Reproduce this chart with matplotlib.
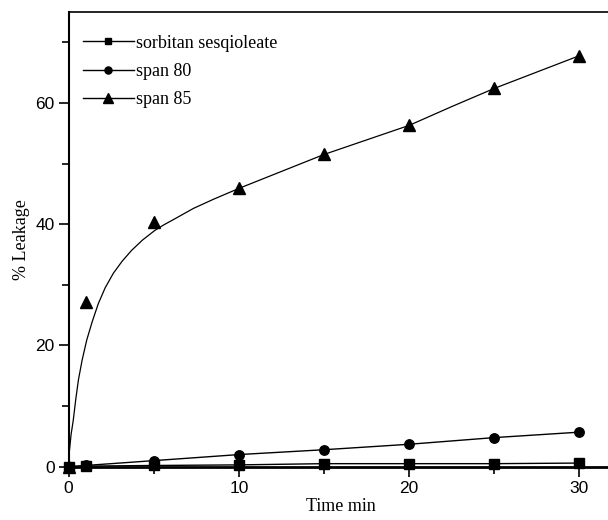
import matplotlib.pyplot as plt
from matplotlib.ticker import MultipleLocator

plt.rcParams['font.family'] = ['Liberation Serif', 'DejaVu Serif']

# Sampling times (min)
time = [0, 1, 5, 10, 15, 20, 25, 30]

# % leakage for each surfactant
sorbitan = [0, 0.1, 0.2, 0.3, 0.5, 0.5, 0.5, 0.6]
span80 = [0, 0.2, 1.0, 2.0, 2.8, 3.7, 4.8, 5.7]
span85 = [0, 27.2, 40.4, 45.9, 51.5, 56.3, 62.4, 67.8]

# Fitted trend line for span 85
fit_t = [0, 0.05, 0.15, 0.28, 0.42, 0.58, 0.8, 1.07, 1.4, 1.75, 2.15, 2.63,
         3.15, 3.71, 4.35, 5.08, 5.6, 6.25, 7.33, 8.5, 10, 12.5, 15, 17.5,
         20, 22.5, 25, 27.5, 30]
fit_y = [0, 2.5, 5.3, 7.7, 11.0, 14.3, 17.6, 20.9, 24.0, 26.9, 29.5, 31.9,
         33.9, 35.7, 37.4, 39.0, 39.9, 40.9, 42.6, 44.1, 45.9, 48.7, 51.5,
         53.9, 56.3, 59.4, 62.4, 65.1, 67.8]

fig = plt.figure(figsize=(6.08, 5.2), dpi=100)
ax = fig.add_axes([0.1127, 0.1025, 0.8964, 0.8744])

ax.plot(time, sorbitan, color='black', lw=1.0, marker='s', ms=6.5,
        clip_on=False, zorder=4, label='sorbitan sesqioleate')
ax.plot(time, span80, color='black', lw=1.0, marker='o', ms=6.8,
        clip_on=False, zorder=4, label='span 80')
ax.plot(fit_t, fit_y, color='black', lw=0.9, zorder=3)
ax.plot(time, span85, color='black', lw=0, marker='^', ms=9,
        clip_on=False, zorder=4)
# legend entry for span 85 (line + triangle)
ax.plot([], [], color='black', lw=1.0, marker='^', ms=9, label='span 85')

ax.set_xlim(0, 32)
ax.set_ylim(0, 75)
ax.xaxis.set_major_locator(MultipleLocator(10))
ax.xaxis.set_minor_locator(MultipleLocator(5))
ax.yaxis.set_major_locator(MultipleLocator(20))
ax.yaxis.set_minor_locator(MultipleLocator(10))

ax.tick_params(which='both', direction='out', width=1.2, top=False, right=False)
ax.tick_params(which='major', length=7, labelsize=12.5, pad=3)
ax.tick_params(which='minor', length=5)
for lab in ax.get_xticklabels() + ax.get_yticklabels():
    lab.set_family(['Liberation Sans', 'DejaVu Sans'])

ax.spines['left'].set_linewidth(1.5)
ax.spines['bottom'].set_linewidth(2.0)
ax.spines['top'].set_linewidth(1.2)
ax.spines['right'].set_visible(False)

ax.set_xlabel('Time min', fontsize=13, labelpad=2)
ax.set_ylabel('% Leakage', fontsize=13, labelpad=4)

ax.legend(loc='upper left', frameon=False, fontsize=13, handlelength=2.8,
          handletextpad=0.15, labelspacing=0.62, markerscale=0.75,
          borderaxespad=0.4, bbox_to_anchor=(0.0, 0.982))

fig.savefig('out.png', dpi=100)
